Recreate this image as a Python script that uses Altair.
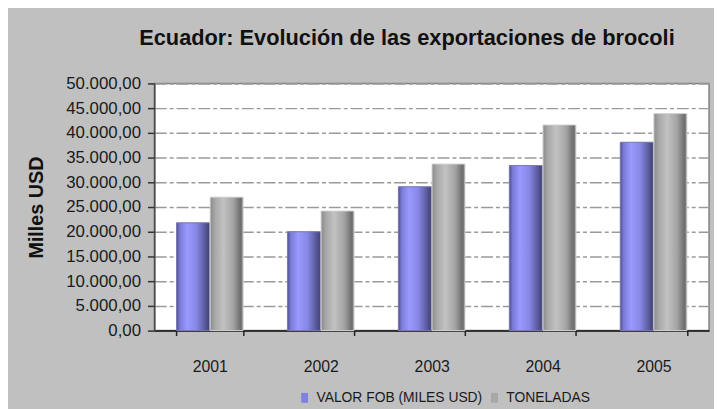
import altair as alt
import pandas as pd

years = ["2001", "2002", "2003", "2004", "2005"]
series_names = ["VALOR FOB (MILES USD)", "TONELADAS"]
valor_fob = [21800, 20000, 29100, 33400, 38100]
toneladas = [27000, 24200, 33700, 41600, 43900]
y_ticks = [0, 5000, 10000, 15000, 20000, 25000, 30000, 35000, 40000, 45000, 50000]

rows = []
for i, yr in enumerate(years):
    rows.append({"year": yr, "series": series_names[0], "value": valor_fob[i]})
    rows.append({"year": yr, "series": series_names[1], "value": toneladas[i]})
df = pd.DataFrame(rows)

FONT = "Liberation Sans"

x_enc = alt.X(
    "year:N",
    sort=years,
    scale=alt.Scale(paddingInner=0.4, paddingOuter=0.2),
    axis=alt.Axis(
        title=None,
        labelAngle=0,
        tickBand="extent",
        tickSize=5,
        tickColor="#222",
        tickWidth=1.5,
        domainColor="#111",
        domainWidth=1.5,
        labelFont=FONT,
        labelFontSize=16,
        labelColor="#1a1a1a",
        labelPadding=23,
        grid=False,
    ),
)
xoff_enc = alt.XOffset(
    "series:N",
    sort=series_names,
    scale=alt.Scale(domain=series_names, paddingInner=0.02),
)
y_enc = alt.Y(
    "value:Q",
    scale=alt.Scale(domain=[0, 50000], nice=False),
    axis=alt.Axis(
        title="Milles USD",
        values=y_ticks,
        labelExpr="datum.value == 0 ? '0,00' : format(datum.value / 1000, 'd') + '.000,00'",
        labelFont=FONT,
        labelFontSize=17,
        labelColor="#1a1a1a",
        labelPadding=7,
        tickSize=7,
        tickColor="#333",
        tickWidth=1.5,
        domainColor="#444",
        domainWidth=1.5,
        grid=True,
        gridColor="#9a9a9a",
        gridWidth=1.5,
        gridDash=[12, 3, 4, 3],
        titleFont=FONT,
        titleFontSize=20,
        titleFontWeight="bold",
        titleColor="#111",
        titleX=-119,
        titleY=125,
        titleAngle=-90,
        titleAlign="center",
        titleBaseline="middle",
    ),
)

base = alt.Chart(df).encode(x=x_enc, xOffset=xoff_enc, y=y_enc)

legend_layer = base.mark_bar().encode(
    color=alt.Color(
        "series:N",
        sort=series_names,
        scale=alt.Scale(domain=series_names, range=["#8080e0", "#a8a8a8"]),
        legend=alt.Legend(
            title=None,
            orient="none",
            direction="horizontal",
            legendX=145,
            legendY=311,
            symbolType="M-0.7,-1H0.7V1H-0.7Z",
            symbolSize=100,
            symbolStrokeWidth=0,
            labelFont=FONT,
            labelFontSize=14,
            labelColor="#1a1a1a",
            labelLimit=400,
            labelOffset=5,
            columnPadding=5,
        ),
    )
)

grad_valor = alt.LinearGradient(
    gradient="linear",
    x1=0, x2=1, y1=0, y2=0,
    stops=[
        alt.GradientStop(color="#505090", offset=0),
        alt.GradientStop(color="#7a7ad6", offset=0.1),
        alt.GradientStop(color="#9999ff", offset=0.32),
        alt.GradientStop(color="#8888e6", offset=0.6),
        alt.GradientStop(color="#5c5ca0", offset=0.85),
        alt.GradientStop(color="#404070", offset=1),
    ],
)
grad_ton = alt.LinearGradient(
    gradient="linear",
    x1=0, x2=1, y1=0, y2=0,
    stops=[
        alt.GradientStop(color="#8a8a8a", offset=0),
        alt.GradientStop(color="#a8a8a8", offset=0.15),
        alt.GradientStop(color="#c2c2c2", offset=0.4),
        alt.GradientStop(color="#a4a4a4", offset=0.7),
        alt.GradientStop(color="#6e6e6e", offset=0.92),
        alt.GradientStop(color="#8a8a8a", offset=1),
    ],
)

valor_layer = base.mark_bar(
    color=grad_valor, stroke="#7a7ab0", strokeWidth=1
).transform_filter(alt.datum.series == series_names[0])
ton_layer = base.mark_bar(
    color=grad_ton, stroke="#d4d4d4", strokeWidth=1
).transform_filter(alt.datum.series == series_names[1])

chart = (
    alt.layer(legend_layer, valor_layer, ton_layer)
    .properties(
        width=561,
        height=250,
        autosize=alt.AutoSizeParams(type="none"),
        padding={"left": 148, "top": 74, "right": 5, "bottom": 77},
        background="#c0c0c0",
        title=alt.TitleParams(
            text="Ecuador: Evolución de las exportaciones de brocoli",
            font=FONT,
            fontSize=22,
            fontWeight="bold",
            color="#111",
            anchor="middle",
            frame="group",
            dx=-25,
            offset=25,
        ),
    )
    .configure_view(fill="white", stroke="#808080", strokeWidth=1.5)
)

chart.save("out.html", embed_options={"renderer": "svg", "actions": False})
